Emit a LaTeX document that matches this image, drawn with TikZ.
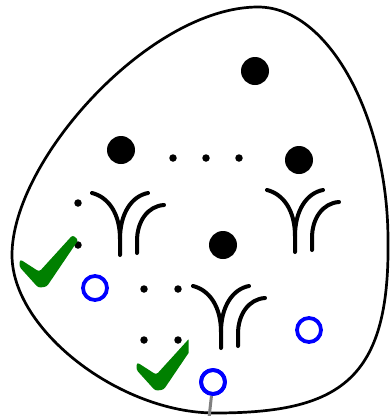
\documentclass[tikz,border=0pt]{standalone}
\begin{document}
\begin{tikzpicture}[x=1pt,y=-1pt,
  bigdot/.style={circle,fill=black,inner sep=0pt,minimum size=28pt},
  smalldot/.style={circle,fill=black,inner sep=0pt,minimum size=7.5pt},
  bluering/.style={circle,draw=blue,line width=3.8pt,inner sep=0pt,minimum size=24pt},
  fork/.style={line width=4pt,line cap=round},
  checkfill/.style={fill=green!50!black,rounded corners=2.5pt}]
\useasboundingbox (0,0) rectangle (390,416);
% outline
\draw[line width=2.7pt] (258,7) .. controls (330,7) and (388,120) .. (388,240)
  .. controls (390,380) and (340,413) .. (215,413)
  .. controls (120,413) and (12,330) .. (12,255)
  .. controls (12,160) and (150,7) .. (258,7) -- cycle;
% big dots
\node[bigdot] (b1) at (255,71) {};
\node[bigdot] (b2) at (121,150) {};
\node[bigdot] (b3) at (299,160) {};
\node[bigdot] (b4) at (223,245) {};
% small dots
\node[smalldot] (s1) at (173,158) {};
\node[smalldot] (s2) at (206,158) {};
\node[smalldot] (s3) at (239,158) {};
\node[smalldot] (s4) at (78,203) {};
\node[smalldot] (s5) at (78,245) {};
\node[smalldot] (s6) at (144,289) {};
\node[smalldot] (s7) at (178,289) {};
\node[smalldot] (s8) at (144,340) {};
\node[smalldot] (s9) at (178,340) {};
% forks
\foreach \fx/\fy in {92/193, 267/190, 193/286}{
  \begin{scope}[shift={(\fx,\fy)}]
    \draw[fork] (0,0) .. controls (16,4) and (28,20) .. (28,46) -- (28,62);
    \draw[fork] (56,0) .. controls (40,3) and (28,20) .. (28,46);
    \draw[fork] (72,12) .. controls (56,13) and (45,28) .. (45,48) -- (45,60);
  \end{scope}}
% checks
\fill[checkfill] (20,259.3) -- (39.3,271.7) -- (72.7,235) -- (78.3,240) -- (46.7,286.7) -- (38.3,287.7) -- (19.3,266.7) -- cycle;
\begin{scope}
  \clip (100,320) rectangle (188.5,400);
  \fill[checkfill,shift={(117,103)}] (20,259.3) -- (39.3,271.7) -- (72.7,235) -- (78.3,240) -- (46.7,286.7) -- (38.3,287.7) -- (19.3,266.7) -- cycle;
\end{scope}
% blue rings
\node[bluering] (r1) at (95,288) {};
\node[bluering] (r2) at (309,330) {};
\node[bluering] (r3) at (213,382) {};
\coordinate (g) at (209,418);
\draw[gray,line width=3pt] (r3) -- (g);
\node[bluering] at (r3) {};
\end{tikzpicture}
\end{document}
